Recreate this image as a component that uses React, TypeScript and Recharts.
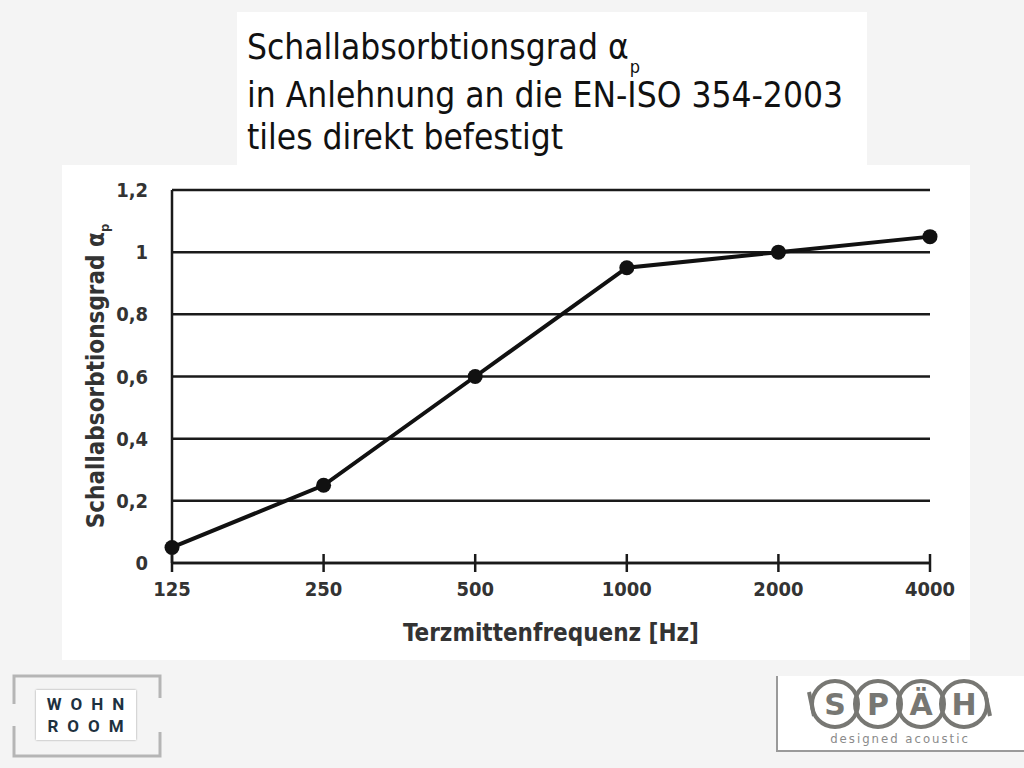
import { CartesianGrid, Line, LineChart, XAxis, YAxis } from 'recharts';

const frequencies = ['125', '250', '500', '1000', '2000', '4000'];
const absorption = [0.05, 0.25, 0.6, 0.95, 1.0, 1.05];
const yTicks = [0, 0.2, 0.4, 0.6, 0.8, 1, 1.2];

const data = frequencies.map((f, i) => ({ freq: f, alpha: absorption[i] }));

const INK = '#1a1a1a';
const COND = '"DejaVu Sans Condensed", "DejaVu Sans", sans-serif';

const formatComma = (v: number): string => String(v).replace('.', ',');

const FreqTick = (props: any) => {
	const { x, y, payload } = props;
	const axisY = y - 19;
	return (
		<g>
			<line x1={x} x2={x} y1={axisY - 9} y2={axisY + 9} stroke={INK} strokeWidth={2.5} />
			<text
				x={x}
				y={y}
				dy="0.71em"
				textAnchor="middle"
				fill="#333"
				fontFamily={COND}
				fontWeight="bold"
				fontSize={20}
			>
				{payload.value}
			</text>
		</g>
	);
};

const WohnRoom = () => (
	<div style={{ position: 'absolute', left: 12, top: 674, width: 150, height: 84 }}>
		<svg width={150} height={84} style={{ position: 'absolute', left: 0, top: 0 }}>
			<path d="M2 30 V2 H148 V24" fill="none" stroke="#b5b5b5" strokeWidth={3} />
			<path d="M2 52 V82 H148 V58" fill="none" stroke="#b5b5b5" strokeWidth={3} />
		</svg>
		<div
			style={{
				position: 'absolute',
				left: 24,
				top: 16,
				width: 100,
				height: 50,
				background: '#fff',
				boxShadow: '0 0 2px #999',
				fontFamily: 'Roboto, sans-serif',
				fontWeight: 'bold',
				fontSize: 17,
				letterSpacing: 9,
				color: '#1e3140',
				textAlign: 'center',
				lineHeight: '22px',
				paddingTop: 3,
				paddingLeft: 8,
				boxSizing: 'border-box',
			}}
		>
			WOHN
			<br />
			ROOM
		</div>
	</div>
);

const Spaeh = () => {
	const letters = ['S', 'P', 'Ä', 'H'];
	return (
		<div
			style={{
				position: 'absolute',
				left: 776,
				top: 676,
				width: 246,
				height: 74,
				background: '#fff',
				borderLeft: '2px solid #9a9a9a',
				borderBottom: '2px solid #9a9a9a',
			}}
		>
			<svg width={246} height={74}>
				{letters.map((l, i) => (
					<circle key={'c' + l} cx={57 + i * 43} cy={28} r={23} fill="none" stroke="#777773" strokeWidth={4} />
				))}
				<line x1={31} x2={36} y1={16} y2={40} stroke="#777773" strokeWidth={4} />
				<line x1={207} x2={212} y1={16} y2={40} stroke="#777773" strokeWidth={4} />
				{letters.map((l, i) => (
					<text
						key={l}
						x={57 + i * 43}
						y={39}
						textAnchor="middle"
						fontFamily='"DejaVu Sans", sans-serif'
						fontWeight="bold"
						fontSize={30}
						fill="#777773"
					>
						{l}
					</text>
				))}
				<text
					x={122}
					y={67}
					textAnchor="middle"
					fontFamily='"DejaVu Sans Condensed", sans-serif'
					fontSize={13}
					letterSpacing={2}
					fill="#8a8a8a"
				>
					designed acoustic
				</text>
			</svg>
		</div>
	);
};

export default function App() {
	return (
		<div
			style={{
				position: 'absolute',
				left: 0,
				top: 0,
				width: 1024,
				height: 768,
				background: '#f4f4f4',
				overflow: 'hidden',
			}}
		>
			<div style={{ position: 'absolute', left: 237, top: 12, width: 630, height: 154, background: '#fff' }} />
			<div style={{ position: 'absolute', left: 62, top: 165, width: 908, height: 495, background: '#fff' }} />

			<div
				style={{
					position: 'absolute',
					left: 247,
					top: 26,
					fontFamily: COND,
					fontSize: 35,
					lineHeight: '42px',
					color: '#111',
					whiteSpace: 'nowrap',
				}}
			>
				Schallabsorbtionsgrad α
				<span style={{ fontSize: 18, position: 'relative', top: 14, marginLeft: 1 }}>p</span>
				<br />
				in Anlehnung an die EN-ISO 354-2003
				<br />
				tiles direkt befestigt
			</div>

			<div style={{ position: 'absolute', left: 0, top: 0 }}>
				<LineChart
					width={1024}
					height={768}
					data={data}
					margin={{ top: 190, right: 94, bottom: 165, left: 92 }}
				>
					<CartesianGrid
						horizontal
						vertical={false}
						stroke={INK}
						strokeWidth={2.5}
					/>
					<XAxis
						dataKey="freq"
						type="category"
						height={40}
						padding={{ left: 0, right: 0 }}
						axisLine={{ stroke: INK, strokeWidth: 2.5 }}
						tickLine={false}
						tickSize={9}
						tickMargin={10}
						tick={<FreqTick />}
						interval={0}
					/>
					<YAxis
						width={80}
						domain={[0, 1.2]}
						ticks={yTicks}
						axisLine={{ stroke: INK, strokeWidth: 2.5 }}
						tickLine={false}
						tickSize={0}
						tickMargin={24}
						tickFormatter={formatComma}
						tick={{
							fill: '#333',
							fontFamily: COND,
							fontWeight: 'bold',
							fontSize: 20,
						}}
					/>
					<Line
						type="linear"
						dataKey="alpha"
						stroke="#111"
						strokeWidth={4}
						dot={{ r: 7.5, fill: '#111', stroke: '#111', strokeWidth: 0 }}
						isAnimationActive={false}
					/>
				</LineChart>
			</div>

			<div
				style={{
					position: 'absolute',
					left: 97,
					top: 376,
					transform: 'translate(-50%, -50%) rotate(-90deg)',
					whiteSpace: 'nowrap',
					fontFamily: COND,
					fontWeight: 'bold',
					fontSize: 24,
					color: '#333',
				}}
			>
				Schallabsorbtionsgrad α<sub style={{ fontSize: 13 }}>p</sub>
			</div>
			<div
				style={{
					position: 'absolute',
					left: 551,
					top: 633,
					transform: 'translate(-50%, -50%)',
					whiteSpace: 'nowrap',
					fontFamily: COND,
					fontWeight: 'bold',
					fontSize: 24,
					color: '#333',
				}}
			>
				Terzmittenfrequenz [Hz]
			</div>

			<WohnRoom />
			<Spaeh />
		</div>
	);
}
